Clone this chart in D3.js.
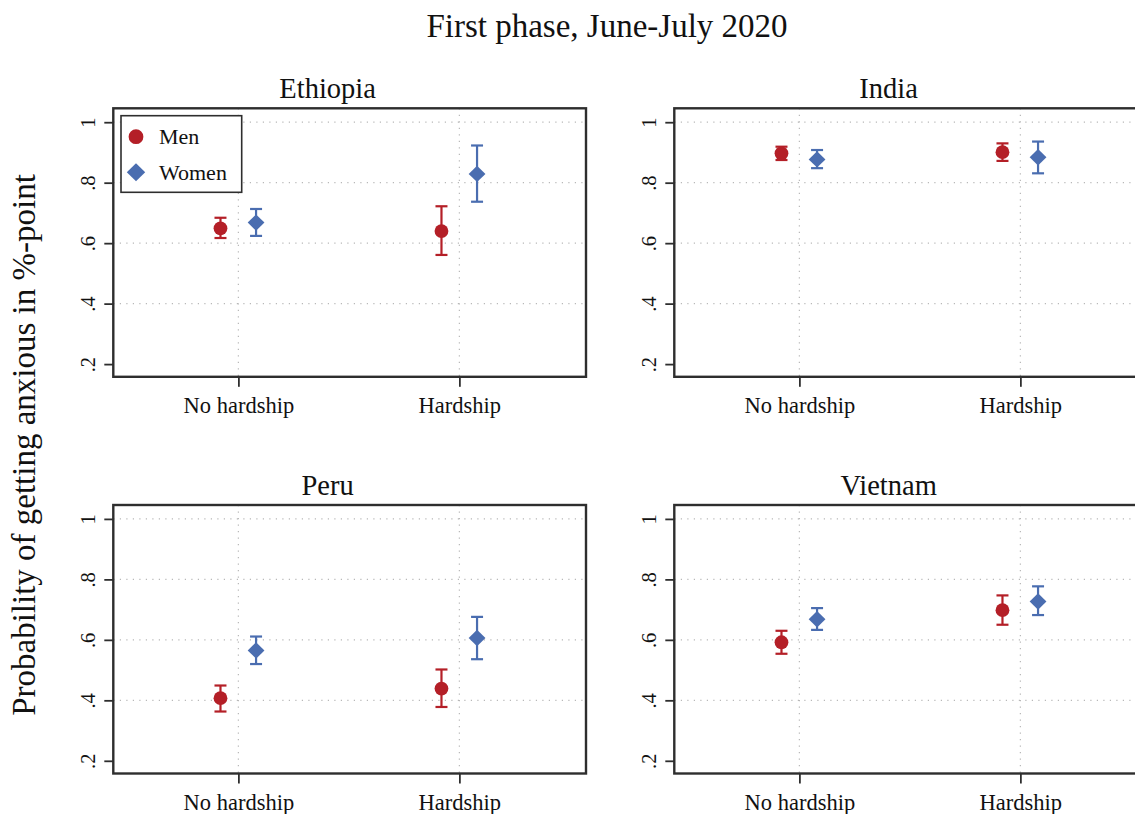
<!DOCTYPE html>
<html>
<head>
<meta charset="utf-8">
<script src="https://cdn.jsdelivr.net/npm/d3@7"></script>
<style>
  body { margin: 0; background: #fff; }
  svg { display: block; }
  text { font-family: "Liberation Serif", "Times New Roman", serif; fill: #111; }
</style>
</head>
<body>
<svg id="chart" width="1135" height="814"></svg>
<script>
// Predicted probability of getting anxious, by country, hardship status and sex
const countries = ["Ethiopia", "India", "Peru", "Vietnam"];
const groups = ["No hardship", "Hardship"];
const seriesNames = ["Men", "Women"];
const yTicks = [0.2, 0.4, 0.6, 0.8, 1];
const yTickLabels = [".2", ".4", ".6", ".8", "1"];
const yGrid = [0.4, 0.6, 0.8, 1];

// [No hardship, Hardship] per country
const menEst   = [[0.649, 0.640], [0.897, 0.901], [0.407, 0.439], [0.592, 0.698]];
const menLo    = [[0.617, 0.561], [0.875, 0.872], [0.363, 0.378], [0.554, 0.650]];
const menHi    = [[0.684, 0.722], [0.919, 0.930], [0.449, 0.502], [0.630, 0.747]];
const womenEst = [[0.668, 0.829], [0.877, 0.884], [0.565, 0.606], [0.668, 0.727]];
const womenLo  = [[0.624, 0.737], [0.848, 0.831], [0.520, 0.536], [0.633, 0.682]];
const womenHi  = [[0.713, 0.923], [0.908, 0.936], [0.611, 0.676], [0.705, 0.777]];

const colors = { Men: "#b41f27", Women: "#4a6db0" };
const frameColor = "#2e2e2e";

const svg = d3.select("#chart");

// Overall title
svg.append("text")
  .attr("x", 607).attr("y", 37)
  .attr("text-anchor", "middle")
  .style("font-size", "33px")
  .text("First phase, June-July 2020");

// Shared y-axis title
svg.append("text")
  .attr("transform", "translate(35,445) rotate(-90)")
  .attr("text-anchor", "middle")
  .style("font-size", "33px")
  .text("Probability of getting anxious in %-point");

const panelW = 472.7, panelH = 268.5;
const lefts = [113.3, 674.3];
const tops = [108.3, 505];

const x = d3.scaleLinear().domain([0.434, 2.573]).range([0, panelW]);
const y = d3.scaleLinear().domain([0.158, 1.046]).range([panelH, 0]);
const offsets = { Men: -0.081, Women: 0.08 };

countries.forEach((country, ci) => {
  const col = ci % 2, row = Math.floor(ci / 2);
  const g = svg.append("g")
    .attr("transform", `translate(${lefts[col]},${tops[row]})`);

  // Panel title
  g.append("text")
    .attr("x", panelW / 2 - 22).attr("y", -10)
    .attr("text-anchor", "middle")
    .style("font-size", "28.5px")
    .text(country);

  // Dotted grid
  g.selectAll("line.hgrid").data(yGrid).enter().append("line")
    .attr("class", "hgrid")
    .attr("x1", 0).attr("x2", panelW)
    .attr("y1", d => y(d)).attr("y2", d => y(d))
    .attr("stroke", "#b8b8b8").attr("stroke-width", 1.2)
    .attr("stroke-dasharray", "1.2,5.3");
  g.selectAll("line.vgrid").data([1, 2]).enter().append("line")
    .attr("class", "vgrid")
    .attr("x1", d => x(d)).attr("x2", d => x(d))
    .attr("y1", 0).attr("y2", panelH)
    .attr("stroke", "#b8b8b8").attr("stroke-width", 1.2)
    .attr("stroke-dasharray", "1.2,5.3");

  // Y axis
  const yAxis = g.append("g")
    .call(d3.axisLeft(y).tickValues(yTicks)
      .tickFormat((d, i) => yTickLabels[i]).tickSize(9));
  yAxis.select(".domain").remove();
  yAxis.selectAll(".tick line").attr("stroke", frameColor).attr("stroke-width", 1.8);
  yAxis.selectAll(".tick text")
    .attr("x", 0).attr("dy", 0)
    .attr("transform", "translate(-18.5,0) rotate(-90)")
    .attr("text-anchor", "middle")
    .style("font-size", "20.5px")
    .style("font-family", "'Liberation Serif', serif")
    .attr("fill", "#111");

  // X axis
  const xAxis = g.append("g")
    .attr("transform", `translate(0,${panelH})`)
    .call(d3.axisBottom(x).tickValues([1, 2])
      .tickFormat((d, i) => groups[i]).tickSize(10));
  xAxis.select(".domain").remove();
  xAxis.selectAll(".tick line").attr("stroke", frameColor).attr("stroke-width", 1.8);
  xAxis.selectAll(".tick text")
    .attr("y", 36.5).attr("dy", 0)
    .style("font-size", "22.5px")
    .style("font-family", "'Liberation Serif', serif")
    .attr("fill", "#111");

  // Plot frame
  g.append("rect")
    .attr("x", 0).attr("y", 0)
    .attr("width", panelW).attr("height", panelH)
    .attr("fill", "none").attr("stroke", frameColor).attr("stroke-width", 2.4);

  // Estimates with confidence intervals
  const pts = [];
  groups.forEach((grp, gi) => {
    pts.push({ s: "Men", gx: gi + 1, est: menEst[ci][gi], lo: menLo[ci][gi], hi: menHi[ci][gi] });
    pts.push({ s: "Women", gx: gi + 1, est: womenEst[ci][gi], lo: womenLo[ci][gi], hi: womenHi[ci][gi] });
  });

  const cap = 6;
  const eb = g.selectAll("g.pt").data(pts).enter().append("g").attr("class", "pt");
  eb.append("line")
    .attr("x1", d => x(d.gx + offsets[d.s])).attr("x2", d => x(d.gx + offsets[d.s]))
    .attr("y1", d => y(d.lo)).attr("y2", d => y(d.hi))
    .attr("stroke", d => colors[d.s]).attr("stroke-width", 2.2);
  ["lo", "hi"].forEach(k => {
    eb.append("line")
      .attr("x1", d => x(d.gx + offsets[d.s]) - cap).attr("x2", d => x(d.gx + offsets[d.s]) + cap)
      .attr("y1", d => y(d[k])).attr("y2", d => y(d[k]))
      .attr("stroke", d => colors[d.s]).attr("stroke-width", 2.2);
  });
  eb.append("path")
    .attr("transform", d => `translate(${x(d.gx + offsets[d.s])},${y(d.est)})`)
    .attr("d", d => d.s === "Men"
      ? d3.symbol(d3.symbolCircle, Math.PI * 6.9 * 6.9)()
      : "M0,-8.2L8.4,0L0,8.2L-8.4,0Z")
    .attr("fill", d => colors[d.s]);

  // Legend in the first panel
  if (ci === 0) {
    const lg = g.append("g").attr("transform", "translate(7.7,7.4)");
    lg.append("rect")
      .attr("width", 120.7).attr("height", 76.6)
      .attr("fill", "#fff").attr("stroke", frameColor).attr("stroke-width", 1.6);
    seriesNames.forEach((s, i) => {
      const cy = 21 + i * 35.6;
      lg.append("path")
        .attr("transform", `translate(15,${cy})`)
        .attr("d", s === "Men"
          ? d3.symbol(d3.symbolCircle, Math.PI * 7.4 * 7.4)()
          : "M0,-9L9.2,0L0,9L-9.2,0Z")
        .attr("fill", colors[s]);
      lg.append("text")
        .attr("x", 38).attr("y", cy + 7.5)
        .style("font-size", "22px")
        .text(s);
    });
  }
});
</script>
</body>
</html>
